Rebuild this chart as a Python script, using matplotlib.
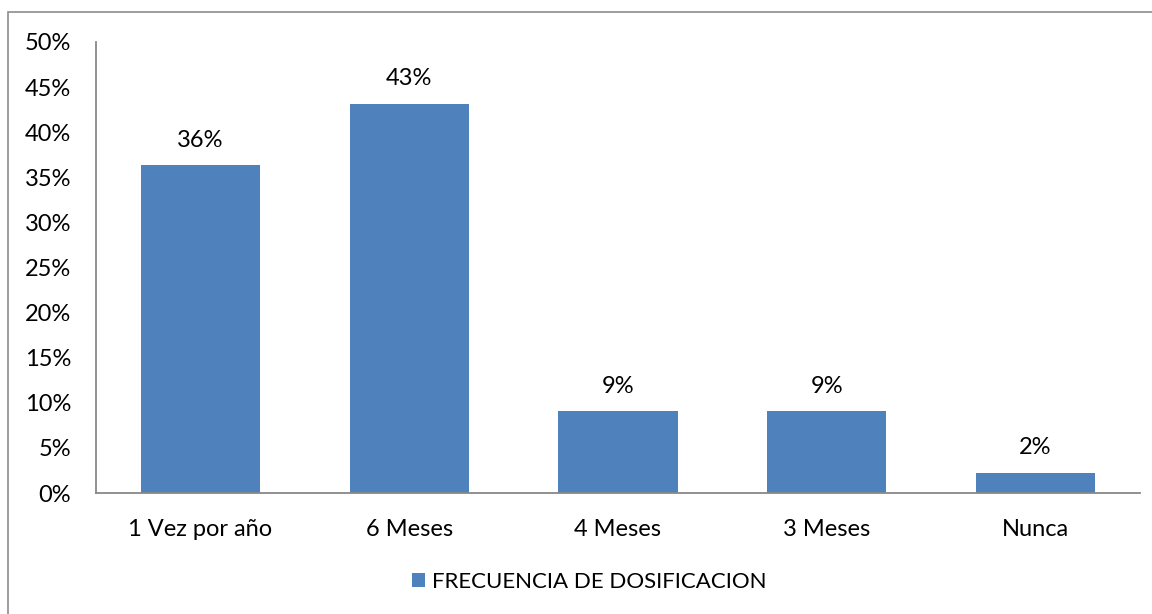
import matplotlib
matplotlib.use('Agg')
import matplotlib.pyplot as plt
from matplotlib.patches import Rectangle
from matplotlib.ticker import FuncFormatter

categories = ['1 Vez por año', '6 Meses', '4 Meses', '3 Meses', 'Nunca']
values = [36.36, 43.18, 9.09, 9.09, 2.27]
labels = ['36%', '43%', '9%', '9%', '2%']
series_name = 'FRECUENCIA DE DOSIFICACION'

plt.rcParams['font.family'] = ['Lato', 'DejaVu Sans']
bar_color = '#4f81bd'
fs = 17

fig = plt.figure(figsize=(11.52, 6.14), dpi=100)
# chart border (left/top visible, rest runs off the image)
fig.patches.append(Rectangle((8 / 1152, -0.1), 1.2, (614 - 12) / 614 + 0.1,
                             transform=fig.transFigure, fill=False,
                             edgecolor='#8c8c8c', linewidth=1.2))

ax = fig.add_axes([96 / 1152, 1 - 493 / 614, (1140 - 96) / 1152, (493 - 42) / 614])
x = range(len(categories))
bars = ax.bar(x, values, width=0.57, color=bar_color, label=series_name)
for xi, v, lab in zip(x, values, labels):
    ax.text(xi, v + 1.6, lab, ha='center', va='bottom', fontsize=fs)

ax.set_xlim(-0.5, len(categories) - 0.5)
ax.set_ylim(0, 50)
ax.set_yticks(range(0, 51, 5))
ax.yaxis.set_major_formatter(FuncFormatter(lambda v, p: '%d%%' % v))
ax.set_xticks(list(x))
ax.set_xticklabels(categories)
ax.tick_params(axis='both', length=0, labelsize=fs, colors='black')
ax.tick_params(axis='y', pad=18)
ax.tick_params(axis='x', pad=19)
for side in ['top', 'right']:
    ax.spines[side].set_visible(False)
for side in ['left', 'bottom']:
    ax.spines[side].set_color('#888888')
    ax.spines[side].set_linewidth(1.3)

fig.legend(handles=[bars], labels=[series_name], loc='center',
           bbox_to_anchor=(589 / 1152, 1 - 582 / 614), frameon=False,
           fontsize=16, handlelength=0.6, handleheight=0.6, handletextpad=0.3)

fig.savefig('out.png', dpi=100)
